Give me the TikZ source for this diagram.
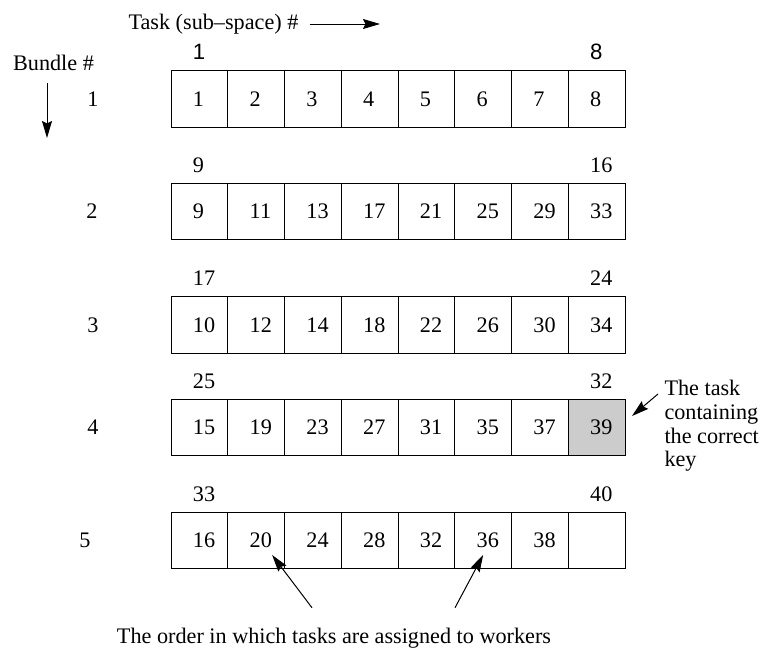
\documentclass[tikz,border=0pt]{standalone}
\usepackage{fontspec}
\setmainfont{Liberation Serif}
\newfontfamily\sansarial{Liberation Sans}
\usepackage{tikz}
\usetikzlibrary{arrows.meta, positioning}

% numero cale a gauche dans une case
\newcommand{\num}[1]{\makebox[6.4pt][l]{#1}}

\begin{document}
\begin{tikzpicture}[x=0.5pt,y=-0.5pt,->,>={Stealth[length=8.5pt,width=5pt,inset=1.2pt]},line width=0.5pt,
    font=\fontsize{11.1}{11.8}\selectfont,
    case/.style={draw, -, minimum width=28.375pt, minimum height=28.25pt, inner sep=0pt, outer sep=0pt},
    cle/.style={fill=black!20},
    titre/.style={inner sep=0pt}]
    \useasboundingbox (0,0) rectangle (765,648);

    % Les paquets et leurs taches
    \foreach \r/\y/\lx/\vals in {
        1/99/93/{1,2,3,4,5,6,7,8},
        2/211.5/92/{9,11,13,17,21,25,29,33},
        3/325/93/{10,12,14,18,22,26,30,34},
        4/427.5/93/{15,19,23,27,31,35,37},
        5/540.5/85/{16,20,24,28,32,36,38}}
    {
        \node (b\r) at (\lx,\y) {\r};
        \foreach \v [count=\c] in \vals
            \node[case] (r\r-\c) at ({171+56.75*(\c-0.5)},\y) {\num{\v}};
    }
    \node[case, cle] (r4-8) at ({171+56.75*7.5},427.5) {\num{39}};
    \node[case] (r5-8) at ({171+56.75*7.5},540.5) {};

    % Numeros des taches au-dessus des lignes
    \foreach \r/\ga/\dr in {1/{\sansarial 1}/{\sansarial 8}, 2/9/16, 3/17/24, 4/25/32, 5/33/40}
    {
        \node[titre, above=5.25pt of r\r-1] (g\r) {\num{\ga}};
        \node[titre, above=5.25pt of r\r-8] (d\r) {\num{\dr}};
    }

    % Titres des axes
    \node (tache) at (213.5,24) {Task (sub--space) \#};
    \coordinate (fintache) at (380,24);
    \draw[->, shorten <=2pt] (tache) -- (fintache);
    \node (paquet) at (53.5,63) {Bundle \#};
    \coordinate (finpaquet) at (47,138);
    \draw[->, shorten <=2.5pt] (paquet.south -| finpaquet) -- (finpaquet);

    % La cle
    \node[align=left, anchor=north west, inner sep=0pt] (note) at (664,380) {The task\\containing\\the correct\\key};
    \draw[->] ([xshift=-3pt,yshift=-7pt]note.north west) -- ([xshift=3.5pt,yshift=5.75pt]r4-8.east);

    % Ordre d'attribution
    \node (ordre) at (334,638) {The order in which tasks are assigned to workers};
    \draw[->] ([xshift=-11pt,yshift=6.5pt]ordre.north) -- ([xshift=8pt,yshift=-7.25pt]r5-2.center);
    \draw[->] ([xshift=60.5pt,yshift=6.5pt]ordre.north) -- ([yshift=-7.25pt]r5-6.center);
\end{tikzpicture}
\end{document}
